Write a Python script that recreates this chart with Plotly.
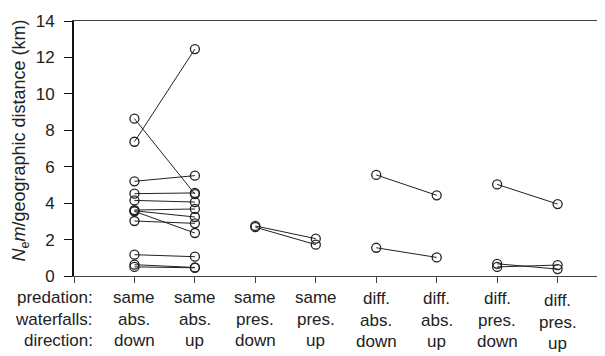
import plotly.graph_objects as go

# ---- data ----
categories = [
    ("same", "abs.", "down"),
    ("same", "abs.", "up"),
    ("same", "pres.", "down"),
    ("same", "pres.", "up"),
    ("diff.", "abs.", "down"),
    ("diff.", "abs.", "up"),
    ("diff.", "pres.", "down"),
    ("diff.", "pres.", "up"),
]
row_labels = ["predation:", "waterfalls:", "direction:"]

same_abs_down = [7.37, 8.64, 5.20, 4.52, 4.15, 3.62, 3.58, 3.55, 3.02, 1.17, 0.62, 0.50]
same_abs_up = [12.46, 4.50, 5.51, 4.56, 4.06, 3.68, 3.24, 2.36, 2.89, 1.06, 0.47, 0.45]
same_pres_down = [2.75, 2.68]
same_pres_up = [2.05, 1.72]
diff_abs_down = [5.55, 1.55]
diff_abs_up = [4.43, 1.02]
diff_pres_down = [5.03, 0.67, 0.50]
diff_pres_up = [3.95, 0.38, 0.60]

y_ticks = [0, 2, 4, 6, 8, 10, 12, 14]

pairs = [
    (1, same_abs_down, same_abs_up),
    (3, same_pres_down, same_pres_up),
    (5, diff_abs_down, diff_abs_up),
    (7, diff_pres_down, diff_pres_up),
]

FONT = "Liberation Sans, Arial, sans-serif"
INK = "#222222"

fig = go.Figure()
for xpos, down, up in pairs:
    for a, b in zip(down, up):
        fig.add_trace(go.Scatter(
            x=[xpos, xpos + 1], y=[a, b],
            mode="lines+markers",
            line=dict(color=INK, width=1),
            marker=dict(symbol="circle-open", size=9, color=INK, line=dict(width=1.3)),
            showlegend=False, hoverinfo="skip",
        ))

# category labels: one annotation per cell, rows placed by pixel offset
row_shift = [-10, -31.5, -52.5]
col_shift = [0, 0, 0, 0, -1, -1, -1, -3]
for i, cat in enumerate(categories):
    for r, txt in enumerate(cat):
        fig.add_annotation(
            x=i + 1, xref="x", y=0, yref="paper",
            yanchor="top", xanchor="center", yshift=row_shift[r] + col_shift[i],
            text=txt, showarrow=False,
            font=dict(family=FONT, size=17, color=INK),
        )
for r, txt in enumerate(row_labels):
    fig.add_annotation(
        x=0.35, xref="x", y=0, yref="paper",
        yanchor="top", xanchor="right", yshift=row_shift[r],
        text=txt, showarrow=False,
        font=dict(family=FONT, size=17, color=INK),
    )

# y axis title
fig.add_annotation(
    x=-0.099, xref="paper", y=0.53, yref="paper",
    xanchor="center", yanchor="middle", textangle=-90,
    text="<i>N</i><sub>e</sub><i>m</i>/geographic distance (km)",
    showarrow=False, font=dict(family=FONT, size=18, color=INK),
)

fig.update_layout(
    width=605, height=356,
    margin=dict(l=66, r=1, t=13, b=88),
    paper_bgcolor="white", plot_bgcolor="white",
    font=dict(family=FONT, size=17, color=INK),
    xaxis=dict(
        range=[0, 8.90], tickvals=list(range(0, 9)), showticklabels=False,
        ticks="outside", ticklen=6, tickwidth=1, tickcolor="#444444",
        showline=True, linecolor="#444444", linewidth=1.3, mirror=True,
        showgrid=False, zeroline=False,
    ),
    yaxis=dict(
        range=[0, 14], tickvals=y_ticks, ticktext=[str(v) for v in y_ticks],
        ticks="outside", ticklen=8, tickwidth=1, tickcolor="#111111",
        showline=True, linecolor="#111111", linewidth=2,
        showgrid=False, zeroline=False, ticklabelstandoff=6,
        tickfont=dict(family=FONT, size=17, color=INK),
    ),
)

fig.write_html("out.html")
